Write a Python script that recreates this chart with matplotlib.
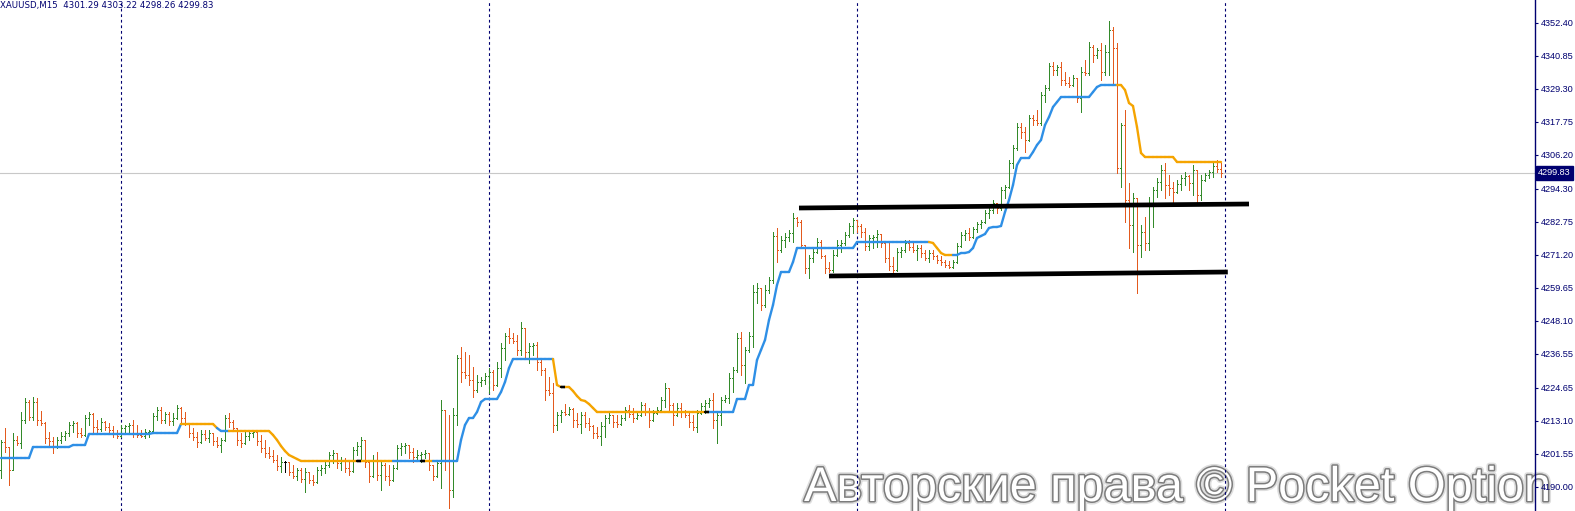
import numpy as np
import matplotlib.pyplot as plt
from matplotlib.collections import LineCollection
import matplotlib.patheffects as pe

header = "XAUUSD,M15  4301.29 4303.22 4298.26 4299.83"
watermark = "Авторские права © Pocket Option"

# M15 bars, oldest first; open of each bar = previous close
open0 = 4195.8
highs = [
    4206.3, 4210.5, 4203.85, 4208.75, 4207.7, 4216.1, 4221.0, 4220.3, 4221.35, 4221.0,
    4216.45, 4212.6, 4209.1, 4207.35, 4207.35, 4209.1, 4209.45, 4212.6, 4212.95, 4212.6,
    4210.5, 4215.05, 4216.1, 4215.75, 4213.3, 4214.0, 4212.95, 4212.25, 4211.2, 4209.8,
    4211.55, 4211.55, 4212.25, 4213.3, 4211.55, 4209.8, 4210.15, 4209.8, 4215.75, 4217.85,
    4217.85, 4216.1, 4216.1, 4215.75, 4218.55, 4217.85, 4216.1, 4212.25, 4210.5, 4209.1,
    4209.8, 4209.8, 4209.8, 4208.75, 4207.35, 4207.0, 4215.05, 4215.75, 4213.3, 4210.5,
    4208.75, 4209.1, 4209.8, 4209.8, 4209.1, 4208.05, 4206.3, 4203.85, 4202.8, 4201.05,
    4200.35, 4198.95, 4198.6, 4197.55, 4196.5, 4196.5, 4196.5, 4195.1, 4194.05, 4196.85,
    4197.55, 4198.6, 4202.1, 4202.8, 4201.75, 4200.35, 4200.0, 4199.3, 4203.85, 4205.6,
    4207.35, 4206.3, 4199.3, 4201.05, 4202.1, 4199.3, 4198.25, 4197.55, 4197.55, 4204.55,
    4205.25, 4205.25, 4204.55, 4203.5, 4202.8, 4202.1, 4202.8, 4201.75, 4197.55, 4199.3,
    4220.3, 4216.8, 4215.05, 4217.5, 4236.05, 4238.85, 4237.1, 4236.05, 4231.85, 4229.05,
    4228.35, 4229.75, 4231.5, 4230.8, 4233.6, 4240.25, 4243.75, 4245.5, 4243.75, 4243.05,
    4247.6, 4245.5, 4240.25, 4240.25, 4240.6, 4235.0, 4231.5, 4228.35, 4226.25, 4216.1,
    4216.8, 4218.9, 4217.85, 4217.5, 4215.75, 4216.1, 4216.1, 4214.0, 4211.55, 4210.85,
    4212.6, 4215.05, 4215.75, 4215.05, 4215.05, 4215.05, 4217.85, 4218.55, 4217.5, 4216.1,
    4219.6, 4219.25, 4217.5, 4216.8, 4217.85, 4221.35, 4226.25, 4224.5, 4219.25, 4219.25,
    4219.25, 4216.8, 4215.75, 4215.05, 4216.8, 4219.25, 4220.3, 4221.0, 4222.75, 4216.1,
    4221.35, 4222.05, 4229.75, 4231.85, 4243.75, 4244.1, 4238.85, 4244.1, 4260.55, 4261.25,
    4259.5, 4260.55, 4263.35, 4279.1, 4280.5, 4277.7, 4278.75, 4279.8, 4285.75, 4284.35,
    4283.3, 4274.55, 4271.05, 4273.5, 4277.0, 4276.3, 4271.05, 4268.6, 4272.8, 4276.3,
    4276.3, 4279.1, 4282.25, 4284.0, 4283.3, 4281.9, 4280.5, 4278.05, 4278.05, 4279.8,
    4278.4, 4275.25, 4275.25, 4270.35, 4273.5, 4273.85, 4276.3, 4276.3, 4275.6, 4274.55,
    4274.55, 4272.8, 4272.8, 4272.8, 4271.05, 4270.7, 4269.3, 4268.95, 4269.3, 4275.25,
    4279.1, 4279.8, 4280.5, 4280.85, 4282.6, 4283.3, 4286.8, 4287.5, 4290.3, 4289.25,
    4294.85, 4295.55, 4304.3, 4309.55, 4317.25, 4317.25, 4315.85, 4320.05, 4320.05, 4321.8,
    4328.1, 4330.55, 4338.25, 4338.6, 4337.55, 4338.6, 4335.1, 4333.35, 4334.05, 4333.0,
    4336.85, 4339.3, 4345.6, 4344.55, 4343.5, 4345.25, 4344.55, 4352.95, 4350.85, 4345.25,
    4317.25, 4321.8, 4296.25, 4292.75, 4291.0, 4281.55, 4284.35, 4291.35, 4294.85, 4298.0,
    4302.55, 4303.25, 4299.05, 4296.6, 4297.3, 4299.05, 4300.1, 4299.05, 4302.55, 4300.8,
    4299.05, 4299.75, 4300.8, 4303.25, 4304.3, 4303.22,
]
lows = [
    4193.0, 4202.1, 4190.55, 4195.8, 4204.55, 4203.5, 4212.25, 4213.3, 4213.3, 4211.55,
    4211.55, 4205.25, 4204.55, 4201.75, 4203.5, 4205.25, 4206.3, 4207.7, 4209.1, 4207.35,
    4207.35, 4207.7, 4211.55, 4209.1, 4209.1, 4209.45, 4209.8, 4208.75, 4207.35, 4207.0,
    4207.35, 4208.75, 4208.75, 4207.35, 4207.35, 4207.35, 4207.0, 4207.35, 4208.75, 4213.3,
    4212.25, 4212.25, 4211.55, 4211.55, 4213.65, 4212.6, 4211.55, 4207.35, 4206.3, 4203.85,
    4205.25, 4206.3, 4205.6, 4204.55, 4203.85, 4202.1, 4205.95, 4210.85, 4209.8, 4204.55,
    4203.85, 4204.9, 4206.3, 4207.35, 4204.55, 4202.1, 4200.35, 4200.0, 4198.6, 4195.8,
    4195.1, 4195.1, 4194.05, 4193.0, 4192.3, 4191.6, 4188.1, 4191.25, 4190.55, 4191.25,
    4194.05, 4194.75, 4196.85, 4198.25, 4196.5, 4195.8, 4195.1, 4194.05, 4195.1, 4201.05,
    4199.3, 4196.85, 4191.6, 4193.35, 4192.3, 4188.8, 4192.3, 4190.55, 4191.95, 4196.15,
    4201.05, 4201.75, 4200.0, 4198.6, 4199.3, 4198.6, 4200.0, 4195.8, 4192.3, 4193.35,
    4189.5, 4195.8, 4182.5, 4186.35, 4211.55, 4226.6, 4228.0, 4225.55, 4221.35, 4223.1,
    4225.2, 4225.9, 4222.75, 4223.8, 4225.2, 4228.35, 4234.3, 4240.25, 4240.25, 4236.05,
    4236.05, 4235.0, 4233.25, 4236.05, 4230.8, 4229.05, 4220.3, 4222.05, 4209.1, 4209.8,
    4212.6, 4215.05, 4215.05, 4210.85, 4210.85, 4208.75, 4210.85, 4209.8, 4207.0, 4207.0,
    4204.55, 4207.35, 4212.25, 4210.85, 4210.85, 4211.55, 4213.3, 4214.35, 4212.6, 4213.65,
    4214.7, 4215.05, 4210.85, 4212.95, 4215.4, 4216.45, 4217.85, 4216.1, 4211.55, 4214.7,
    4214.35, 4214.35, 4210.85, 4209.8, 4209.1, 4215.4, 4215.75, 4217.85, 4210.5, 4205.25,
    4211.55, 4219.6, 4219.25, 4223.1, 4230.1, 4229.05, 4226.25, 4237.1, 4238.85, 4254.25,
    4251.8, 4252.85, 4257.75, 4261.25, 4268.6, 4272.1, 4273.85, 4275.95, 4275.6, 4281.2,
    4273.5, 4264.75, 4263.0, 4268.6, 4271.75, 4270.0, 4264.75, 4265.1, 4265.1, 4270.7,
    4272.1, 4274.55, 4277.35, 4278.75, 4279.1, 4277.35, 4272.8, 4272.8, 4273.5, 4273.85,
    4273.85, 4268.6, 4265.8, 4264.05, 4265.45, 4270.35, 4272.1, 4272.8, 4272.1, 4269.3,
    4270.35, 4269.3, 4268.6, 4269.65, 4268.25, 4267.55, 4266.85, 4266.5, 4266.5, 4268.25,
    4273.85, 4276.3, 4276.3, 4277.0, 4279.1, 4280.5, 4282.25, 4284.0, 4285.75, 4285.75,
    4286.8, 4291.0, 4294.5, 4301.5, 4307.8, 4312.0, 4307.1, 4310.95, 4316.55, 4316.55,
    4316.55, 4324.6, 4328.8, 4334.05, 4334.05, 4330.55, 4330.55, 4329.85, 4330.2, 4324.6,
    4321.1, 4334.05, 4334.05, 4338.6, 4340.0, 4332.3, 4334.05, 4334.05, 4331.25, 4299.75,
    4294.85, 4282.6, 4273.5, 4272.1, 4257.75, 4270.35, 4272.8, 4272.8, 4280.85, 4291.35,
    4293.8, 4291.0, 4292.05, 4289.6, 4292.75, 4293.8, 4295.55, 4293.8, 4292.05, 4289.25,
    4290.3, 4296.95, 4298.0, 4298.35, 4300.1, 4298.26,
]
closes = [
    4205.6, 4203.85, 4195.8, 4206.3, 4205.25, 4213.3, 4219.6, 4214.35, 4219.6, 4213.3,
    4212.25, 4207.0, 4205.95, 4203.85, 4206.3, 4207.7, 4208.75, 4211.55, 4212.25, 4208.75,
    4208.05, 4214.0, 4215.4, 4210.85, 4210.15, 4212.6, 4210.85, 4209.8, 4208.4, 4207.7,
    4210.5, 4211.2, 4211.55, 4208.75, 4208.05, 4207.7, 4209.1, 4209.45, 4214.7, 4216.8,
    4213.3, 4215.4, 4212.95, 4214.0, 4217.5, 4214.0, 4212.25, 4208.75, 4207.35, 4205.6,
    4208.4, 4207.0, 4208.75, 4205.95, 4204.55, 4206.3, 4214.0, 4212.6, 4210.5, 4206.3,
    4205.25, 4207.7, 4208.75, 4209.1, 4205.95, 4203.5, 4201.75, 4200.7, 4199.3, 4197.2,
    4198.6, 4198.6, 4195.1, 4193.7, 4195.8, 4192.65, 4195.1, 4192.3, 4191.6, 4195.8,
    4196.5, 4197.55, 4201.05, 4201.75, 4198.25, 4199.3, 4196.5, 4195.45, 4202.8, 4204.2,
    4206.3, 4198.6, 4193.7, 4199.3, 4194.05, 4197.55, 4193.7, 4192.3, 4196.5, 4203.5,
    4204.2, 4204.55, 4202.1, 4200.35, 4201.05, 4201.4, 4201.75, 4197.55, 4193.7, 4198.25,
    4216.8, 4199.3, 4188.8, 4215.05, 4235.0, 4230.1, 4229.05, 4227.3, 4223.8, 4226.6,
    4227.3, 4228.7, 4230.1, 4225.55, 4231.5, 4238.5, 4242.7, 4242.0, 4240.95, 4237.8,
    4245.5, 4237.1, 4239.2, 4239.55, 4233.6, 4230.8, 4223.8, 4222.75, 4211.55, 4215.05,
    4216.1, 4215.4, 4217.15, 4213.3, 4211.9, 4215.05, 4212.25, 4211.2, 4208.75, 4207.7,
    4211.2, 4214.0, 4215.05, 4212.6, 4211.9, 4214.0, 4216.8, 4215.4, 4214.0, 4215.05,
    4218.55, 4216.45, 4213.3, 4215.75, 4216.8, 4220.3, 4224.5, 4218.55, 4215.05, 4217.5,
    4216.1, 4215.05, 4212.6, 4210.85, 4215.75, 4218.2, 4219.25, 4220.3, 4213.3, 4215.05,
    4220.3, 4221.0, 4228.0, 4230.8, 4242.0, 4232.55, 4237.8, 4242.7, 4258.1, 4259.5,
    4253.55, 4258.8, 4262.3, 4277.7, 4272.8, 4276.3, 4277.35, 4278.75, 4284.0, 4282.6,
    4274.55, 4266.5, 4270.0, 4272.1, 4275.6, 4270.7, 4266.5, 4265.8, 4271.05, 4274.55,
    4275.25, 4278.05, 4281.2, 4283.3, 4281.2, 4279.1, 4274.2, 4277.0, 4277.35, 4278.4,
    4275.25, 4270.0, 4267.2, 4265.8, 4272.1, 4272.8, 4275.25, 4273.85, 4272.8, 4273.5,
    4271.75, 4270.0, 4271.75, 4270.7, 4269.3, 4268.6, 4267.55, 4266.85, 4268.6, 4274.2,
    4278.05, 4278.75, 4277.35, 4280.15, 4281.9, 4282.6, 4285.75, 4286.8, 4289.25, 4287.5,
    4293.8, 4294.85, 4303.25, 4308.5, 4315.85, 4314.1, 4311.3, 4319.0, 4318.3, 4317.25,
    4327.05, 4329.5, 4337.2, 4335.8, 4336.85, 4332.3, 4331.25, 4330.55, 4333.0, 4326.0,
    4335.1, 4334.75, 4343.85, 4341.05, 4342.8, 4335.1, 4342.1, 4349.8, 4343.5, 4301.5,
    4316.55, 4290.3, 4281.55, 4291.0, 4274.55, 4279.1, 4275.25, 4288.55, 4293.8, 4296.6,
    4300.8, 4295.55, 4294.5, 4293.1, 4295.9, 4298.0, 4298.7, 4296.25, 4300.8, 4292.05,
    4297.3, 4299.05, 4300.1, 4302.2, 4301.29, 4299.83,
]

# trailing stop indicator, one value per bar
trail = ([4200.0] * 8 + [4203.85] * 10 + [4204.55] * 4 + [4208.4] * 16 + [4208.75] * 7
         + [4211.9] * 9 + [4210.5] + [4209.45] * 13
         + [4208.05, 4206.3, 4204.2, 4202.45, 4201.05, 4200.35, 4199.65, 4198.95]
         + [4198.95] * 39
         + [4206.3, 4211.55, 4214.0, 4214.0, 4216.1, 4219.6] + [4220.65] * 4
         + [4223.1, 4226.6, 4231.5] + [4234.65] * 11
         + [4225.55] + [4224.85] * 3
         + [4223.45, 4221.7, 4220.3, 4219.95, 4218.9, 4217.5, 4216.1] + [4216.1] * 34
         + [4220.65] * 3 + [4225.55] * 2
         + [4234.3, 4237.8, 4241.3, 4248.3, 4253.55, 4260.55]
         + [4265.1] * 3 + [4268.6] + [4273.5] * 15 + [4275.6] * 19
         + [4275.25, 4273.5, 4271.75] + [4271.05] * 4 + [4271.75] * 2
         + [4272.1, 4273.5, 4277.0, 4277.7, 4278.4, 4280.5] + [4280.85] * 2
         + [4281.2, 4286.1, 4290.3, 4295.55, 4302.55] + [4305.0] * 3
         + [4307.1, 4309.55, 4311.3, 4316.55, 4319.35, 4322.85, 4324.6]
         + [4326.35] * 8 + [4328.1, 4329.85] + [4330.55] * 6
         + [4328.8, 4324.25, 4323.2, 4315.85, 4306.75] + [4305.35] * 8 + [4303.6] * 12)
# 1 = up (blue), -1 = down (orange), 0 = black mark
trend = ([1] * 46 + [-1] * 9 + [1] * 3 + [-1] * 32 + [0] + [-1] * 8 + [1] * 7 + [0]
         + [-1] * 2 + [1] * 30 + [-1] * 2 + [0] + [-1] * 35 + [0] + [1] * 55
         + [-1] * 6 + [1] * 41 + [-1] * 26)

separators = [30, 122, 214, 306]
resistance = [(199.5, 4287.5), (312.0, 4288.9)]
support = [(207.0, 4263.7), (306.7, 4265.1)]
price_ticks = [4352.40, 4340.85, 4329.30, 4317.75, 4306.20, 4294.30, 4282.75, 4271.20,
               4259.65, 4248.10, 4236.55, 4224.65, 4213.10, 4201.55, 4190.00]
last_price = 4299.83

n = len(closes)
x = np.arange(n)
c = np.array(closes)
o = np.array([open0] + closes[:-1])
h = np.array(highs)
l = np.array(lows)

up_col, dn_col, navy = '#338a2a', '#e35a1e', '#000070'
cols = np.where(c > o, up_col, np.where(c < o, dn_col, 'black'))

W, H = 1575, 511
fig = plt.figure(figsize=(W / 100, H / 100), dpi=100)
fig.patch.set_facecolor('white')
ax = fig.add_axes([0, 0, 1535 / W, 1])
ax.patch.set_visible(False)

ax.axhline(last_price, color='#c8c8c8', lw=0.8, zorder=1)
for s in separators:
    ax.axvline(s, color=navy, lw=0.8, ls=(0, (2.5, 2.5)), zorder=1)

ax.vlines(x, l, h, colors=cols, lw=0.7, antialiased=False, zorder=2)
ax.hlines(o, x - 0.35, x, colors=cols, lw=0.7, antialiased=False, zorder=2)
ax.hlines(c, x, x + 0.35, colors=cols, lw=0.7, antialiased=False, zorder=2)

tcol = {1: '#2e8fe6', -1: '#f5a400', 0: 'black'}
segs = [[(i - 1, trail[i - 1]), (i, trail[i])] for i in range(1, n)]
seg_cols = [tcol[trend[i]] for i in range(1, n)]
lc = LineCollection(segs, colors=seg_cols, linewidths=1.7, capstyle='round', zorder=3)
ax.add_collection(lc)
blk = [segs[i - 1] for i in range(1, n) if trend[i] == 0]
ax.add_collection(LineCollection(blk, colors='black', linewidths=1.7, zorder=4))

for line in (resistance, support):
    xs, ys = zip(*line)
    ax.plot(xs, ys, color='black', lw=3.4, solid_capstyle='butt', zorder=5)

ax.set_xlim(-0.25, 1535 / 4 - 0.25)
ax.set_ylim(4181.45, 4360.3)
ax.set_xticks([])
ax.yaxis.tick_right()
ax.set_yticks(price_ticks)
ax.set_yticklabels([f'{v:.2f}' for v in price_ticks], family='Liberation Sans')
ax.tick_params(axis='y', direction='out', length=2.5, width=0.8, color=navy,
               labelcolor=navy, labelsize=6.6, pad=1.5)
for side in ('left', 'top', 'bottom'):
    ax.spines[side].set_visible(False)
ax.spines['right'].set_color(navy)
ax.spines['right'].set_linewidth(1.0)

ax.text(1 + 3 / 1535, last_price, f'{last_price:.2f}', transform=ax.get_yaxis_transform(),
        ha='left', va='center', fontsize=6.6, family='Liberation Sans', color='white',
        clip_on=False, bbox=dict(boxstyle='square,pad=0.25', fc=navy, ec=navy))

fig.text(0, 1 - 1 / H, header, ha='left', va='top', fontsize=6.2, color=navy)

# watermark sits behind the chart content
fig.text(804 / W, 10 / H, watermark, ha='left', va='baseline', fontsize=35.0,
         family='Liberation Sans', color='white', zorder=-1,
         path_effects=[pe.Stroke(linewidth=4.5, foreground='#dedede'),
                       pe.Stroke(linewidth=2.2, foreground='#7c7c7c'),
                       pe.Normal()])

fig.savefig('out.png', dpi=100, facecolor='white')
